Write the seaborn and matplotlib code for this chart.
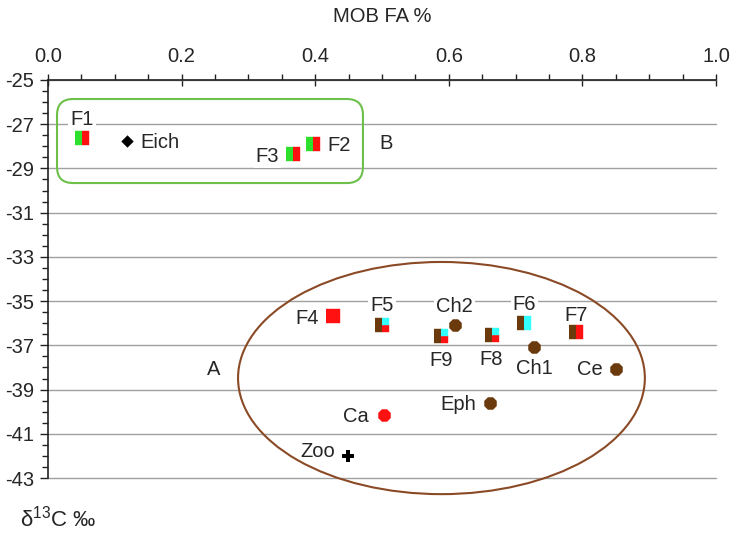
import numpy as np
import pandas as pd
import matplotlib
matplotlib.use("Agg")
import matplotlib.pyplot as plt
from matplotlib.markers import MarkerStyle
from matplotlib.patches import Ellipse, FancyBboxPatch
from matplotlib.ticker import MultipleLocator, FormatStrFormatter
import seaborn as sns

# ---------------- data ----------------
sample_names = ["F1", "F2", "F3", "F4", "F5", "F6", "F7", "F8", "F9"]
sample_mob = [0.051, 0.397, 0.367, 0.426, 0.500, 0.713, 0.790, 0.664, 0.588]
sample_d13c = [-27.62, -27.90, -28.35, -35.68, -36.06, -36.01, -36.39, -36.54, -36.60]
# composition of each split marker: left|right, right may be top/bottom
sample_parts = ["green|red", "green|red", "green|red", "red", "brown|cyan/red",
                "brown|cyan", "brown|red", "brown|cyan/red", "brown|cyan/red"]

source_names = ["Eich", "Ch1", "Ch2", "Ce", "Eph", "Ca", "Zoo"]
source_mob = [0.118, 0.728, 0.609, 0.850, 0.662, 0.503, 0.449]
source_d13c = [-27.75, -37.07, -36.09, -38.05, -39.63, -40.17, -42.01]
source_kind = ["diamond", "brown", "brown", "brown", "brown", "red", "plus"]

group_names = ["A", "B"]
group_mob = [0.2475, 0.506]
group_d13c = [-38.01, -27.81]

x_ticks = [0.0, 0.2, 0.4, 0.6, 0.8, 1.0]
y_ticks = [-25, -27, -29, -31, -33, -35, -37, -39, -41, -43]
x_title = "MOB FA %"
y_title = "δ$^{13}$C ‰"

# ---------------- style ----------------
COL = {"green": "#2EE02E", "red": "#FF1111", "brown": "#6B3A0C",
       "cyan": "#33FFFF", "black": "#000000"}
SHAPES = {
    "full": [(-1, -1), (1, -1), (1, 1), (-1, 1)],
    "left": [(-1, -1), (0, -1), (0, 1), (-1, 1)],
    "right": [(0, -1), (1, -1), (1, 1), (0, 1)],
    "rtop": [(0, 0), (1, 0), (1, 1), (0, 1)],
    "rbot": [(0, -1), (1, -1), (1, 0), (0, 0)],
}
# label offsets in points (dx, dy of label centre), horizontal alignment
label_pos = {
    "F1": (0, 14, "center"), "F2": (10, 0, "left"), "F3": (-10, -1, "right"),
    "F4": (-10, -1, "right"), "F5": (0, 15, "center"), "F6": (0, 14.4, "center"),
    "F7": (0, 13, "center"), "F8": (0, -16.5, "center"), "F9": (0, -16.5, "center"),
    "Eich": (9.4, 0, "left"), "Ch1": (0, -14.4, "center"), "Ch2": (0, 14.4, "center"),
    "Ce": (-9.4, 0, "right"), "Eph": (-10, 0, "right"), "Ca": (-11, 0, "right"),
    "Zoo": (-9.4, 4.3, "right"),
}
FS = 14.5

sns.set_style("white")
plt.rcParams["font.family"] = ["Liberation Sans", "DejaVu Sans"]
plt.rcParams["mathtext.fontset"] = "custom"
plt.rcParams["mathtext.rm"] = "Liberation Sans"
plt.rcParams["mathtext.it"] = "Liberation Sans"
plt.rcParams["axes.unicode_minus"] = False

fig = plt.figure(figsize=(7.34, 5.34), dpi=100)
ax = fig.add_axes([48 / 734, 1 - 478 / 534, 668 / 734, 398 / 534])

# build long table of marker parts
rows = []
for n, xv, yv, comp in zip(sample_names, sample_mob, sample_d13c, sample_parts):
    if "|" not in comp:
        rows.append((n, xv, yv, "full", comp))
        continue
    left, right = comp.split("|")
    rows.append((n, xv, yv, "left", left))
    if "/" in right:
        t, b = right.split("/")
        rows.append((n, xv, yv, "rtop", t))
        rows.append((n, xv, yv, "rbot", b))
    else:
        rows.append((n, xv, yv, "right", right))
parts = pd.DataFrame(rows, columns=["name", "mob", "d13c", "shape", "color"])

for (shape, color), sub in parts.groupby(["shape", "color"]):
    sns.scatterplot(data=sub, x="mob", y="d13c", ax=ax,
                    marker=MarkerStyle(SHAPES[shape]), color=COL[color],
                    edgecolor=COL[color], linewidth=0.3, s=100,
                    legend=False, zorder=6)

src = pd.DataFrame({"name": source_names, "mob": source_mob,
                    "d13c": source_d13c, "kind": source_kind})
for kind, sub in src.groupby("kind"):
    if kind == "diamond":
        kw = dict(marker="D", color="black", s=40)
    elif kind == "plus":
        kw = dict(marker="P", color="black", s=80)
    else:
        kw = dict(marker="8", color=COL[kind], s=95)
    sns.scatterplot(data=sub, x="mob", y="d13c", ax=ax, linewidth=0,
                    legend=False, zorder=6, **kw)

# labels
all_names = sample_names + source_names
all_x = sample_mob + source_mob
all_y = sample_d13c + source_d13c
for n, xv, yv in zip(all_names, all_x, all_y):
    dx, dy, ha = label_pos[n]
    ax.annotate(n, (xv, yv), xytext=(dx, dy - 5), textcoords="offset points",
                ha=ha, va="baseline", fontsize=FS, zorder=3,
                bbox=dict(facecolor="white", edgecolor="none", pad=1.5))
for n, xv, yv in zip(group_names, group_mob, group_d13c):
    ax.annotate(n, (xv, yv), xytext=(0, -5), textcoords="offset points",
                ha="center", va="baseline", fontsize=FS, zorder=3)

# group outlines
ax.add_patch(FancyBboxPatch((0.0135, -29.66), 0.458, 3.8,
                            boxstyle="round,pad=0,rounding_size=0.024",
                            mutation_aspect=30.2, facecolor="none",
                            edgecolor="#6CC04A", linewidth=1.5, zorder=4,
                            clip_on=False))
ax.add_patch(Ellipse((0.589, -38.48), 0.609, 10.5, facecolor="none",
                     edgecolor="#8B4A26", linewidth=1.5, zorder=4,
                     clip_on=False))

# axes
ax.set_xlim(0, 1.0)
ax.set_ylim(-43, -25)
ax.xaxis.tick_top()
ax.xaxis.set_label_position("top")
ax.set_xticks(x_ticks)
ax.set_yticks(y_ticks)
ax.xaxis.set_major_formatter(FormatStrFormatter("%.1f"))
ax.xaxis.set_minor_locator(MultipleLocator(0.05))
ax.yaxis.set_minor_locator(MultipleLocator(0.5))
ax.tick_params(axis="x", which="major", direction="inout", length=8.6, width=1,
               pad=6, labelsize=FS, color="#222222", top=True, bottom=False)
ax.tick_params(axis="x", which="minor", direction="out", length=4.3, width=1,
               color="#222222", top=True, bottom=False)
ax.tick_params(axis="y", which="major", direction="out", length=5.8, width=1,
               pad=4, labelsize=FS, color="#222222", left=True)
ax.tick_params(axis="y", which="minor", direction="out", length=4.3, width=1,
               color="#222222", left=True)
ax.set_xlabel(x_title, fontsize=FS, labelpad=18)
ax.set_ylabel("")
ax.grid(axis="y", which="major", color="#a0a0a0", linewidth=1)
ax.grid(axis="x", visible=False)
ax.set_axisbelow(True)
for gl in ax.get_ygridlines():
    gl.set_clip_on(False)
for s in ["bottom", "right"]:
    ax.spines[s].set_visible(False)
for s in ["top", "left"]:
    ax.spines[s].set_color("#222222")
    ax.spines[s].set_linewidth(1.2)

fig.text(20 / 734, 1 - 527 / 534, y_title, ha="left", va="baseline", fontsize=16)

fig.savefig("out.png", dpi=100)
